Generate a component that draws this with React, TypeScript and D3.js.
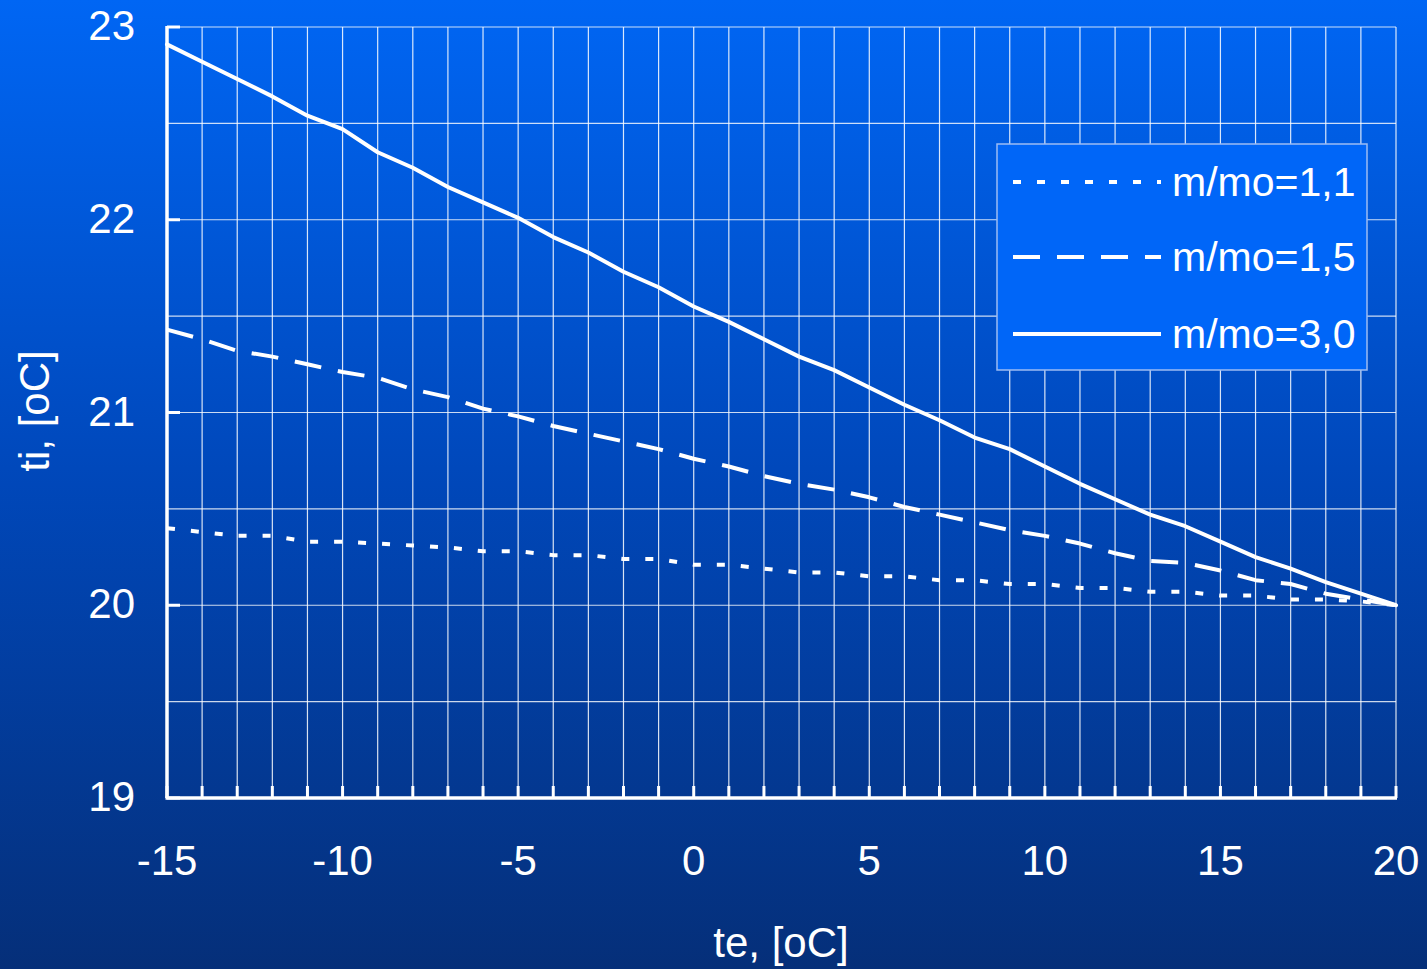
import React from "react";
import * as d3 from "d3";

const te = [-15, -14, -13, -12, -11, -10, -9, -8, -7, -6, -5, -4, -3, -2, -1, 0, 1, 2, 3, 4, 5, 6, 7, 8, 9, 10, 11, 12, 13, 14, 15, 16, 17, 18, 19, 20];
const s11 = [20.40, 20.38, 20.36, 20.36, 20.33, 20.33, 20.32, 20.31, 20.30, 20.28, 20.28, 20.26, 20.26, 20.24, 20.24, 20.21, 20.21, 20.19, 20.17, 20.17, 20.15, 20.15, 20.13, 20.13, 20.11, 20.11, 20.09, 20.09, 20.07, 20.07, 20.05, 20.05, 20.03, 20.03, 20.02, 20.00];
const s15 = [21.43, 21.38, 21.32, 21.29, 21.25, 21.21, 21.18, 21.12, 21.08, 21.02, 20.98, 20.93, 20.89, 20.85, 20.81, 20.76, 20.72, 20.67, 20.63, 20.60, 20.56, 20.51, 20.47, 20.43, 20.39, 20.36, 20.32, 20.27, 20.23, 20.22, 20.18, 20.13, 20.11, 20.06, 20.03, 20.00];
const s30 = [22.91, 22.82, 22.73, 22.64, 22.54, 22.47, 22.35, 22.27, 22.17, 22.09, 22.01, 21.91, 21.83, 21.73, 21.65, 21.55, 21.47, 21.38, 21.29, 21.22, 21.13, 21.04, 20.96, 20.87, 20.81, 20.72, 20.63, 20.55, 20.47, 20.41, 20.33, 20.25, 20.19, 20.12, 20.06, 20.00];
const seriesNames = ["m/mo=1,1", "m/mo=1,5", "m/mo=3,0"];
const xTickLabels = [-15, -10, -5, 0, 5, 10, 15, 20];
const yTickLabels = [19, 20, 21, 22, 23];
const yGrid = [19.5, 20, 20.5, 21, 21.5, 22, 22.5, 23];
const xTitle = "te, [oC]";
const yTitle = "ti, [oC]";

const W = 1427;
const H = 969;
const FONT = "'Liberation Sans', Arial, sans-serif";

export default function App() {
  const x = d3.scaleLinear().domain([-15, 20]).range([167, 1396]);
  const y = d3.scaleLinear().domain([19, 23]).range([798, 27]);
  const line = d3
    .line<number>()
    .x((_, i) => x(te[i]))
    .y((d) => y(d));

  const series = [
    { name: seriesNames[0], values: s11, dash: "8,16", cap: "butt" as const },
    { name: seriesNames[1], values: s15, dash: "27,17", cap: "butt" as const },
    { name: seriesNames[2], values: s30, dash: undefined, cap: "round" as const },
  ];

  const legX = 997;
  const legY = 144;
  const legW = 370;
  const legH = 226;
  const rowY = [182, 257, 334];

  return (
    <svg
      width={W}
      height={H}
      style={{ position: "absolute", left: 0, top: 0, display: "block" }}
      fontFamily={FONT}
    >
      <defs>
        <linearGradient id="bg" x1="0" y1="0" x2="0" y2="1">
          <stop offset="0%" stopColor="#0066f4" />
          <stop offset="50%" stopColor="#0047b9" />
          <stop offset="100%" stopColor="#052f79" />
        </linearGradient>
      </defs>
      <rect x={0} y={0} width={W} height={H} fill="url(#bg)" />

      {/* grid */}
      {te.map((v) => (
        <line
          key={"gx" + v}
          x1={x(v)}
          x2={x(v)}
          y1={y(23)}
          y2={y(19)}
          stroke="#ffffff"
          strokeOpacity={0.85}
          strokeWidth={1.2}
        />
      ))}
      {yGrid.map((v) => (
        <line
          key={"gy" + v}
          x1={x(-15)}
          x2={x(20)}
          y1={y(v)}
          y2={y(v)}
          stroke="#ffffff"
          strokeOpacity={0.8}
          strokeWidth={1.2}
        />
      ))}

      {/* axes */}
      <line x1={x(-15)} x2={x(-15)} y1={y(23) - 1} y2={y(19)} stroke="#fff" strokeWidth={3.5} />
      <line x1={x(-15) - 1.5} x2={x(20) + 1} y1={y(19)} y2={y(19)} stroke="#fff" strokeWidth={3.5} />
      {yTickLabels.map((v) => (
        <line key={"ty" + v} x1={x(-15)} x2={x(-15) + 13} y1={y(v)} y2={y(v)} stroke="#fff" strokeWidth={3} />
      ))}
      {te.map((v) => (
        <line key={"tx" + v} x1={x(v)} x2={x(v)} y1={y(19)} y2={y(19) - 12} stroke="#fff" strokeWidth={3} />
      ))}

      {/* tick labels */}
      {yTickLabels.map((v) => (
        <text key={"ly" + v} x={135} y={y(v) + 13} textAnchor="end" fill="#fff" fontSize={42}>
          {v}
        </text>
      ))}
      {xTickLabels.map((v) => (
        <text key={"lx" + v} x={x(v)} y={875} textAnchor="middle" fill="#fff" fontSize={42}>
          {v}
        </text>
      ))}

      {/* axis titles */}
      <text x={781} y={957} textAnchor="middle" fill="#fff" fontSize={42}>
        {xTitle}
      </text>
      <text
        transform={`translate(49,411) rotate(-90)`}
        textAnchor="middle"
        fill="#fff"
        fontSize={42}
      >
        {yTitle}
      </text>

      {/* series */}
      {series.map((s) => (
        <path
          key={s.name}
          d={line(s.values) || ""}
          fill="none"
          stroke="#fff"
          strokeWidth={4}
          strokeDasharray={s.dash}
          strokeLinecap={s.cap}
          strokeLinejoin="round"
        />
      ))}

      {/* legend */}
      <rect x={legX} y={legY} width={legW} height={legH} fill="#0066f8" stroke="#9cbcf4" strokeWidth={1.5} />
      {series.map((s, i) => (
        <g key={"leg" + s.name}>
          <line
            x1={1013}
            x2={1161}
            y1={rowY[i]}
            y2={rowY[i]}
            stroke="#fff"
            strokeWidth={4}
            strokeDasharray={s.dash}
            strokeLinecap="butt"
          />
          <text x={1172} y={rowY[i] + 14} fill="#fff" fontSize={41}>
            {s.name}
          </text>
        </g>
      ))}
    </svg>
  );
}
